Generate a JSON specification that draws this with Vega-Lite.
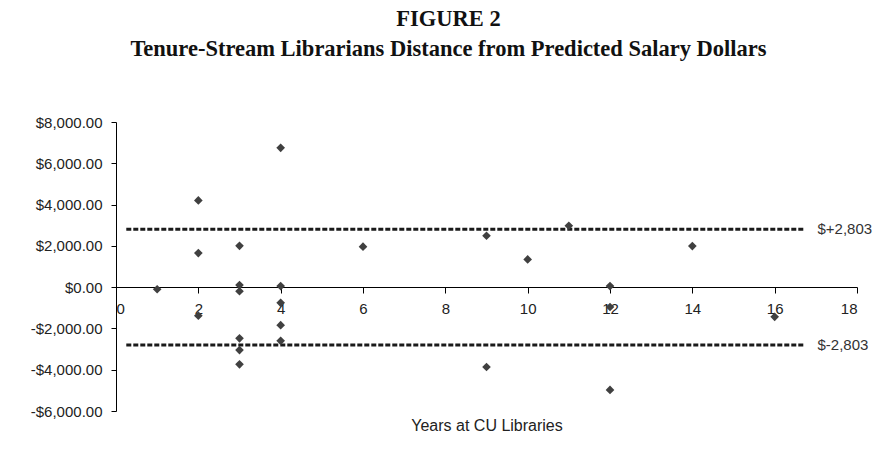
{
  "$schema": "https://vega.github.io/schema/vega-lite/v6.json",
  "autosize": "none",
  "width": 741,
  "height": 289,
  "padding": {"left": 116, "top": 122, "right": 39, "bottom": 46},
  "background": "white",
  "config": {"view": {"stroke": null}},
  "title": {
    "text": ["FIGURE 2", "Tenure-Stream Librarians Distance from Predicted Salary Dollars"],
    "font": "Liberation Serif",
    "fontSize": 22.5,
    "fontWeight": "bold",
    "color": "#111",
    "anchor": "middle",
    "frame": "group",
    "lineHeight": 30,
    "dx": -38,
    "offset": 55
  },
  "datasets": {
    "points": [
      {"years": 1, "diff": -100},
      {"years": 2, "diff": 4200},
      {"years": 2, "diff": 1650},
      {"years": 2, "diff": -1380},
      {"years": 3, "diff": 2000},
      {"years": 3, "diff": 100},
      {"years": 3, "diff": -200},
      {"years": 3, "diff": -2480},
      {"years": 3, "diff": -3050},
      {"years": 3, "diff": -3740},
      {"years": 4, "diff": 6750},
      {"years": 4, "diff": 50},
      {"years": 4, "diff": -760},
      {"years": 4, "diff": -1840},
      {"years": 4, "diff": -2600},
      {"years": 6, "diff": 1960},
      {"years": 9, "diff": 2490},
      {"years": 9, "diff": -3870},
      {"years": 10, "diff": 1345},
      {"years": 11, "diff": 2975},
      {"years": 12, "diff": 50},
      {"years": 12, "diff": -960},
      {"years": 12, "diff": -4980},
      {"years": 14, "diff": 1990},
      {"years": 16, "diff": -1440}
    ],
    "bands": [
      {"band": "upper", "years": 0.25, "diff": 2803, "label": ""},
      {"band": "upper", "years": 16.7, "diff": 2803, "label": "$+2,803"},
      {"band": "lower", "years": 0.25, "diff": -2803, "label": ""},
      {"band": "lower", "years": 16.7, "diff": -2803, "label": "$-2,803"}
    ]
  },
  "layer": [
    {
      "data": {"name": "bands"},
      "mark": {"type": "line", "stroke": "#1a1a1a", "strokeWidth": 3, "strokeDash": [5, 2]},
      "encoding": {
        "x": {
          "field": "years", "type": "quantitative",
          "scale": {"domain": [0, 18], "nice": false, "zero": false},
          "axis": {
            "values": [0, 2, 4, 6, 8, 10, 12, 14, 16, 18],
            "offset": -124,
            "grid": false,
            "domainColor": "#000",
            "tickColor": "#000",
            "tickSize": 6,
            "labelPadding": 8,
            "labelFont": "Liberation Sans",
            "labelFontSize": 15,
            "labelColor": "#222",
            "title": "Years at CU Libraries",
            "titleFont": "Liberation Sans",
            "titleFontSize": 16,
            "titleFontWeight": "normal",
            "titleColor": "#222",
            "titlePadding": 101
          }
        },
        "y": {
          "field": "diff", "type": "quantitative",
          "scale": {"domain": [-6000, 8000], "nice": false, "zero": false},
          "axis": {
            "values": [-6000, -4000, -2000, 0, 2000, 4000, 6000, 8000],
            "grid": false,
            "domainColor": "#000",
            "tickColor": "#000",
            "tickSize": 5,
            "labelPadding": 9,
            "labelFont": "Liberation Sans",
            "labelFontSize": 15,
            "labelColor": "#222",
            "labelExpr": "(datum.value < 0 ? '-' : '') + '$' + format(abs(datum.value), ',.2f')",
            "title": null
          }
        },
        "detail": {"field": "band", "type": "nominal"}
      }
    },
    {
      "data": {"name": "bands"},
      "mark": {"type": "text", "align": "left", "baseline": "middle", "dx": 14, "font": "Liberation Sans", "fontSize": 15, "color": "#333"},
      "encoding": {
        "x": {"field": "years", "type": "quantitative"},
        "y": {"field": "diff", "type": "quantitative"},
        "text": {"field": "label"}
      }
    },
    {
      "data": {"name": "points"},
      "mark": {"type": "point", "shape": "diamond", "filled": true, "size": 75, "color": "#404040", "opacity": 1},
      "encoding": {
        "x": {"field": "years", "type": "quantitative"},
        "y": {"field": "diff", "type": "quantitative"}
      }
    }
  ]
}
